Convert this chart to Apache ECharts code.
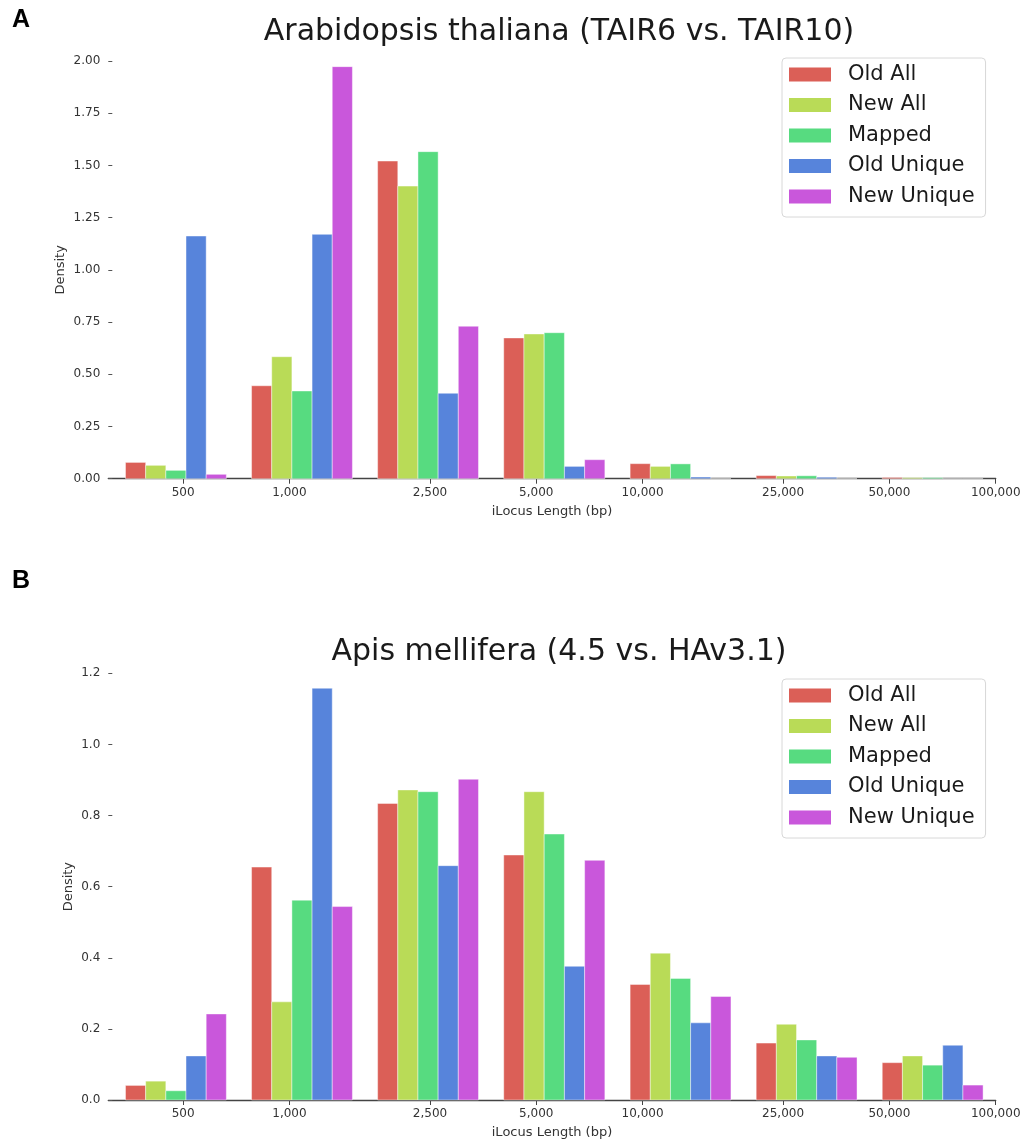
<!DOCTYPE html>
<html>
<head>
<meta charset="utf-8" />
<title>iLocus length density</title>
<script src="https://cdn.jsdelivr.net/npm/echarts@6/dist/echarts.min.js"></script>
<style>
  html, body { margin: 0; padding: 0; background: #fff; }
  #main { width: 1026px; height: 1142px; }
</style>
</head>
<body>
<div id="main"></div>
<script>
// bin edges in log10(bp), 7 bins
var binEdges = [2.5, 2.857, 3.214, 3.571, 3.929, 4.286, 4.643, 5.0];
var seriesNames = ['Old All', 'New All', 'Mapped', 'Old Unique', 'New Unique'];
var tickValues = [500, 1000, 2500, 5000, 10000, 25000, 50000, 100000];
var tickLabels = ['500', '1,000', '2,500', '5,000', '10,000', '25,000', '50,000', '100,000'];

// panel A: Arabidopsis thaliana (TAIR6 vs. TAIR10)
var tairOldAll     = [0.078, 0.445, 1.521, 0.674, 0.072, 0.015, 0.006];
var tairNewAll     = [0.064, 0.584, 1.401, 0.693, 0.059, 0.013, 0.005];
var tairMapped     = [0.040, 0.420, 1.566, 0.699, 0.071, 0.014, 0.005];
var tairOldUnique  = [1.162, 1.170, 0.409, 0.059, 0.008, 0.007, 0.000];
var tairNewUnique  = [0.021, 1.973, 0.730, 0.091, 0.000, 0.000, 0.000];

// panel B: Apis mellifera (4.5 vs. HAv3.1)
var amelOldAll     = [0.041, 0.655, 0.834, 0.689, 0.325, 0.160, 0.105];
var amelNewAll     = [0.053, 0.276, 0.872, 0.867, 0.413, 0.213, 0.124];
var amelMapped     = [0.026, 0.562, 0.867, 0.748, 0.342, 0.169, 0.098];
var amelOldUnique  = [0.124, 1.158, 0.659, 0.376, 0.217, 0.124, 0.154];
var amelNewUnique  = [0.242, 0.544, 0.902, 0.674, 0.291, 0.120, 0.042];

var colors = ['#db5f57', '#b9db57', '#57db80', '#5784db', '#c957db'];
var FONT = 'DejaVu Sans';
var tickLogs = tickValues.map(function (v) { return Math.log10(v); });

// like matplotlib hist: bars fill 80% of each bin, split between the 5 datasets
function barItems(values, k) {
  return values.map(function (v, i) {
    var w = binEdges[i + 1] - binEdges[i];
    var dw = w * 0.8 / seriesNames.length;
    var x0 = binEdges[i] + w * 0.1 + k * dw;
    return [x0, x0 + dw, v];
  });
}

function renderBar(params, api) {
  var p0 = api.coord([api.value(0), api.value(2)]);
  var p1 = api.coord([api.value(1), 0]);
  return {
    type: 'rect',
    shape: { x: p0[0], y: p0[1], width: p1[0] - p0[0], height: p1[1] - p0[1] },
    style: { fill: api.visual('color'), stroke: 'rgba(255,255,255,0.55)', lineWidth: 0.8 }
  };
}

function makeSeries(panel, sets) {
  return sets.map(function (vals, k) {
    return {
      name: seriesNames[k],
      type: 'custom',
      xAxisIndex: panel,
      yAxisIndex: panel,
      itemStyle: { color: colors[k] },
      encode: { x: [0, 1], y: 2 },
      renderItem: renderBar,
      data: barItems(vals, k)
    };
  });
}

function xAxisFor(panel) {
  return {
    type: 'value',
    gridIndex: panel,
    min: 2.487,
    max: 5,
    name: 'iLocus Length (bp)',
    nameLocation: 'middle',
    nameGap: 26,
    nameTextStyle: { fontFamily: FONT, fontSize: 13, color: '#333' },
    axisLine: { show: true, lineStyle: { color: '#444', width: 1.3 } },
    axisTick: { show: true, customValues: tickLogs, length: 5, lineStyle: { color: '#444' } },
    axisLabel: {
      customValues: tickLogs,
      margin: 8,
      fontFamily: FONT, fontSize: 12, color: '#333',
      formatter: function (v) {
        for (var i = 0; i < tickLogs.length; i++) {
          if (Math.abs(tickLogs[i] - v) < 1e-6) return tickLabels[i];
        }
        return '';
      }
    },
    splitLine: { show: false }
  };
}

function yAxisFor(panel, max, step, digits, gap) {
  return {
    type: 'value',
    gridIndex: panel,
    min: 0,
    max: max,
    interval: step,
    name: 'Density',
    nameLocation: 'middle',
    nameGap: gap,
    nameMoveOverlap: false,
    nameTextStyle: { fontFamily: FONT, fontSize: 13, color: '#333' },
    axisLine: { show: false },
    axisTick: { show: true, inside: true, length: 4, lineStyle: { color: '#555' } },
    axisLabel: {
      margin: 8, fontFamily: FONT, fontSize: 12, color: '#333',
      formatter: function (v) { return v.toFixed(digits); }
    },
    splitLine: { show: false }
  };
}

function legendFor(top) {
  return {
    orient: 'vertical',
    left: 782,
    top: top,
    data: seriesNames,
    icon: 'rect',
    itemWidth: 42,
    itemHeight: 14,
    itemGap: 9.5,
    padding: [6, 11, 10, 7],
    borderColor: '#d8d8d8',
    borderWidth: 1,
    borderRadius: 4,
    backgroundColor: '#fff',
    selectedMode: false,
    textStyle: { fontFamily: FONT, fontSize: 21, color: '#1a1a1a', padding: [0, 0, 0, 12] }
  };
}

var chart = echarts.init(document.getElementById('main'));
chart.setOption({
  animation: false,
  backgroundColor: '#fff',
  title: [
    { text: 'A', left: 7, top: 3, textStyle: { fontFamily: 'Liberation Sans', fontWeight: 'bold', fontSize: 25, color: '#000' } },
    { text: 'B', left: 7, top: 564, textStyle: { fontFamily: 'Liberation Sans', fontWeight: 'bold', fontSize: 25, color: '#000' } },
    { text: 'Arabidopsis thaliana (TAIR6 vs. TAIR10)', left: 554, textAlign: 'center', top: 12,
      textStyle: { fontFamily: FONT, fontWeight: 'normal', fontSize: 30, color: '#1a1a1a' } },
    { text: 'Apis mellifera (4.5 vs. HAv3.1)', left: 554, textAlign: 'center', top: 632,
      textStyle: { fontFamily: FONT, fontWeight: 'normal', fontSize: 30, color: '#1a1a1a' } }
  ],
  legend: [legendFor(58), legendFor(679)],
  grid: [
    { left: 108.3, right: 30.3, top: 61, bottom: 663.3 },
    { left: 108.3, right: 30.3, top: 673.3, bottom: 42 }
  ],
  xAxis: [xAxisFor(0), xAxisFor(1)],
  yAxis: [yAxisFor(0, 2, 0.25, 2, 41), yAxisFor(1, 1.2, 0.2, 1, 33)],
  series: makeSeries(0, [tairOldAll, tairNewAll, tairMapped, tairOldUnique, tairNewUnique])
    .concat(makeSeries(1, [amelOldAll, amelNewAll, amelMapped, amelOldUnique, amelNewUnique]))
});
</script>
</body>
</html>
